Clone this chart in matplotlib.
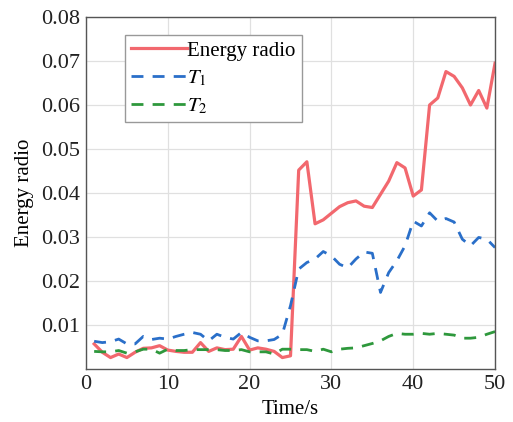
import numpy as np
import matplotlib
matplotlib.use("Agg")
import matplotlib.pyplot as plt

plt.rcParams['font.family'] = ['Liberation Serif', 'DejaVu Serif']
plt.rcParams['mathtext.fontset'] = 'stix'

# time axis (s)
time_s = np.arange(1, 51)

energy_radio = [0.0057, 0.0038, 0.0026, 0.0034, 0.0026, 0.0038, 0.0047, 0.0048, 0.0053, 0.0043,
                0.0040, 0.0038, 0.0038, 0.0060, 0.0040, 0.0048, 0.0044, 0.0045, 0.0074, 0.0043,
                0.0048, 0.0045, 0.0040, 0.0026, 0.0030, 0.0452, 0.0471, 0.0330, 0.0339, 0.0354,
                0.0369, 0.0378, 0.0382, 0.0370, 0.0367, 0.0397, 0.0427, 0.0469, 0.0457, 0.0393,
                0.0407, 0.0600, 0.0616, 0.0676, 0.0665, 0.0639, 0.0600, 0.0633, 0.0593, 0.0695]

t1 = [0.0063, 0.0060, 0.0062, 0.0068, 0.0057, 0.0057, 0.0074, 0.0067, 0.0070, 0.0068,
      0.0074, 0.0079, 0.0083, 0.0079, 0.0064, 0.0079, 0.0072, 0.0068, 0.0083, 0.0072,
      0.0064, 0.0064, 0.0067, 0.0079, 0.0144, 0.0227, 0.0242, 0.0250, 0.0267, 0.0257,
      0.0238, 0.0230, 0.0250, 0.0266, 0.0263, 0.0174, 0.0219, 0.0246, 0.0280, 0.0336,
      0.0325, 0.0355, 0.0336, 0.0342, 0.0334, 0.0295, 0.0280, 0.0299, 0.0295, 0.0276]

t2 = [0.0040, 0.0039, 0.0039, 0.0042, 0.0036, 0.0039, 0.0045, 0.0045, 0.0036, 0.0045,
      0.0042, 0.0042, 0.0044, 0.0044, 0.0044, 0.0044, 0.0042, 0.0042, 0.0044, 0.0039,
      0.0039, 0.0039, 0.0034, 0.0045, 0.0045, 0.0044, 0.0044, 0.0040, 0.0045, 0.0039,
      0.0045, 0.0047, 0.0048, 0.0053, 0.0058, 0.0064, 0.0074, 0.0081, 0.0079, 0.0079,
      0.0081, 0.0079, 0.0081, 0.0079, 0.0077, 0.0070, 0.0070, 0.0072, 0.0079, 0.0085]

fig = plt.figure(figsize=(5.13, 4.22), dpi=100)
ax = fig.add_axes([0.1676, 0.1256, 0.7974, 0.8341])

ax.plot(time_s, energy_radio, color='#f2686e', lw=2.3, label='Energy radio')
ax.plot(time_s, t1, color='#2a6fc9', lw=2.0, ls=(0, (4.3, 3.3)), label='$T_1$')
ax.plot(time_s, t2, color='#2e983c', lw=2.0, ls=(0, (4.3, 3.3)), label='$T_2$')

ax.set_xlim(0, 50)
ax.set_ylim(0, 0.08)
ax.set_xticks([0, 10, 20, 30, 40, 50])
ax.set_yticks([0.01, 0.02, 0.03, 0.04, 0.05, 0.06, 0.07, 0.08])
ax.set_yticklabels(['0.01', '0.02', '0.03', '0.04', '0.05', '0.06', '0.07', '0.08'])
ax.tick_params(labelsize=16, direction='in', length=0, pad=4, colors='#222222')
ax.grid(True, color='#e0e0e0', lw=0.9)
for s in ax.spines.values():
    s.set_color('#555555')
    s.set_linewidth(1.0)

ax.set_xlabel('Time/s', fontsize=15, labelpad=5)
ax.set_ylabel('Energy radio', fontsize=15, labelpad=5)

leg = ax.legend(loc='upper left', bbox_to_anchor=(0.095, 0.949), borderaxespad=0,
                fontsize=15, handlelength=2.7, handletextpad=0.0, borderpad=0.3,
                labelspacing=0.38, fancybox=False, framealpha=1)
leg.get_frame().set_edgecolor('#999999')
leg.get_frame().set_linewidth(1.0)

fig.savefig('out.png', dpi=100)
